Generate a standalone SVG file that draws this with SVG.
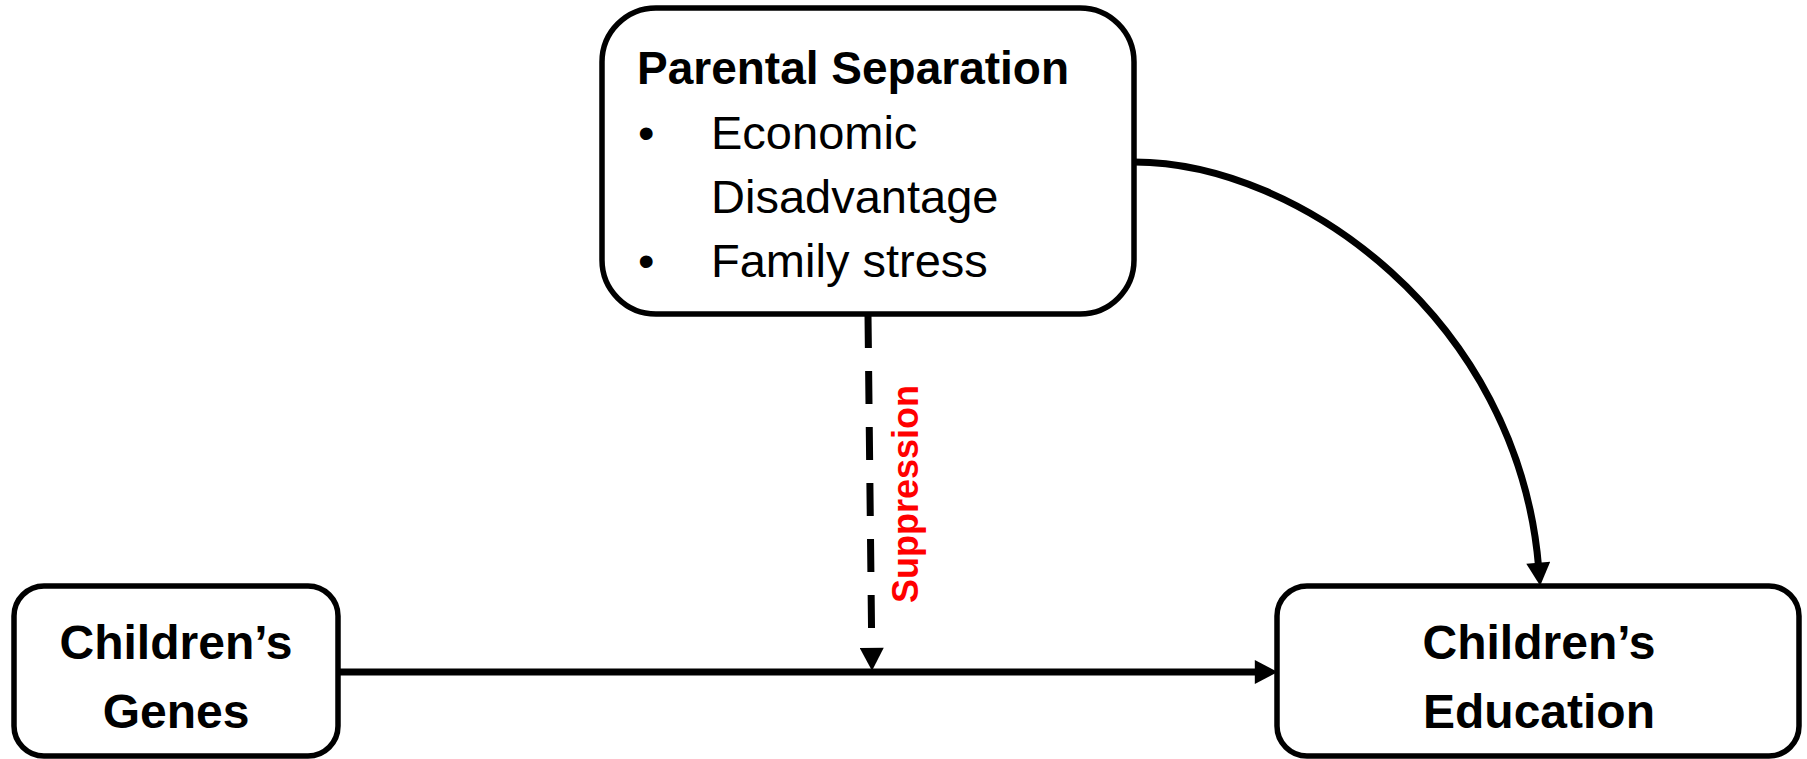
<svg xmlns="http://www.w3.org/2000/svg" width="1807" height="759" viewBox="0 0 1807 759">
<style>
.box{fill:#fff;stroke:#000;stroke-width:5.5}
.b{font-family:"Liberation Sans",Arial,sans-serif;font-weight:bold;fill:#000}
.r{font-family:"Liberation Sans",Arial,sans-serif;fill:#000}
.c{fill:none;stroke:#000;stroke-width:7}
</style>
<defs>
<marker id="ah" markerUnits="userSpaceOnUse" markerWidth="24" markerHeight="24" viewBox="0 0 22 23" refX="4" refY="11.5" orient="auto">
<path d="M0,0 L22,11.5 L0,23 Z" fill="#000"/>
</marker>
</defs>
<rect width="1807" height="759" fill="#fff"/>
<g id="connectors">
<line class="c" x1="338" y1="672" x2="1259" y2="672" marker-end="url(#ah)"/>
<path class="c" d="M868,315 L871.8,652" stroke-dasharray="33,23" marker-end="url(#ah)"/>
<path class="c" d="M1134,162 C1300,162 1518,320 1538.6,567" marker-end="url(#ah)"/>
<text class="b" font-size="36" style="fill:#ff0000" transform="translate(918,494) rotate(-90)" text-anchor="middle">Suppression</text>
</g>
<g id="parental">
<rect class="box" x="602" y="8" width="532" height="306" rx="54"/>
<text class="b" x="637" y="84" font-size="46">Parental Separation</text>
<text class="r" x="638" y="149" font-size="47">•</text>
<text class="r" x="711" y="149" font-size="47">Economic</text>
<text class="r" x="711" y="213" font-size="47">Disadvantage</text>
<text class="r" x="638" y="277" font-size="47">•</text>
<text class="r" x="711" y="277" font-size="47">Family stress</text>
</g>
<g id="genes">
<rect class="box" x="14" y="586" width="324" height="170" rx="30"/>
<text class="b" x="176" y="659" font-size="48" text-anchor="middle">Children’s</text>
<text class="b" x="176" y="728" font-size="48" text-anchor="middle">Genes</text>
</g>
<g id="education">
<rect class="box" x="1277" y="586" width="522" height="170" rx="30"/>
<text class="b" x="1539" y="659" font-size="48" text-anchor="middle">Children’s</text>
<text class="b" x="1539" y="728" font-size="48" text-anchor="middle">Education</text>
</g>
</svg>
